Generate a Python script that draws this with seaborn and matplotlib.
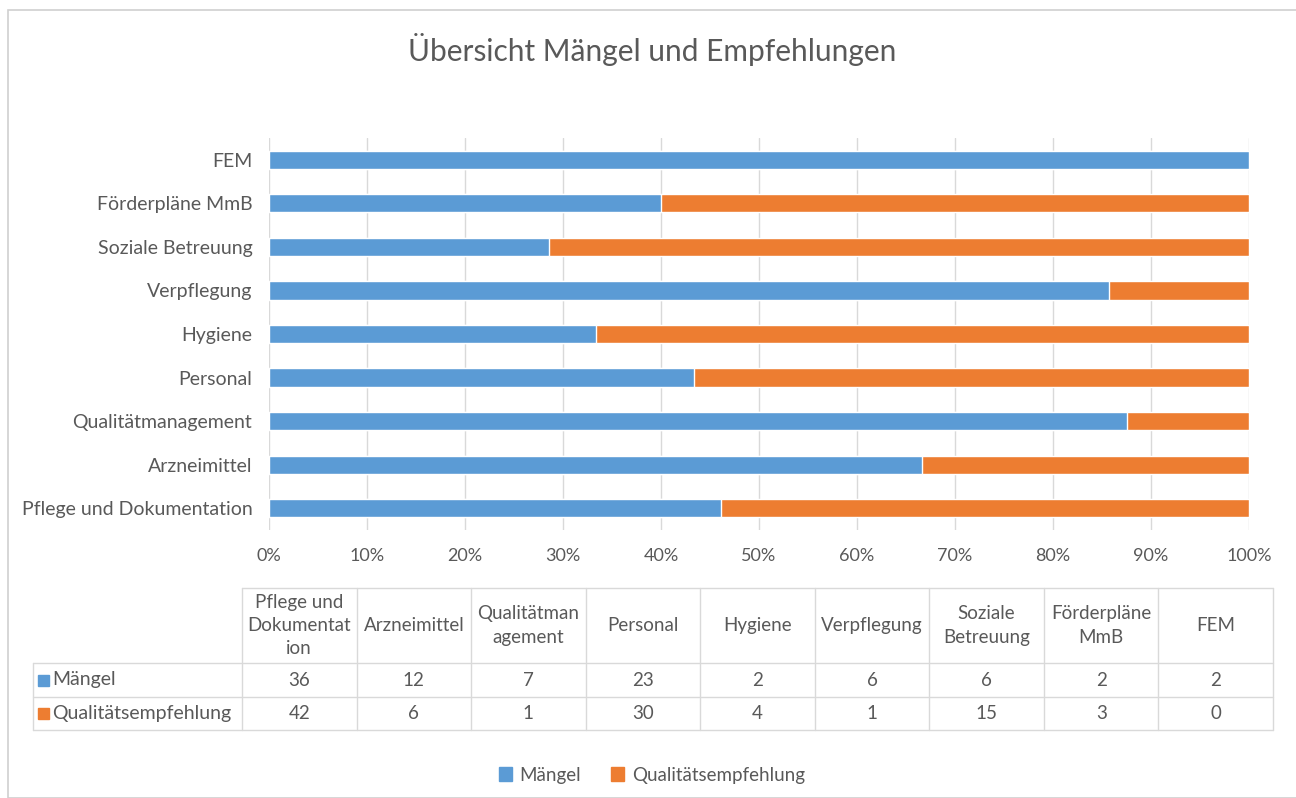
import numpy as np
import pandas as pd
import matplotlib
matplotlib.use("Agg")
import matplotlib.pyplot as plt
import seaborn as sns
from matplotlib.patches import Rectangle, Patch

categories = ["Pflege und Dokumentation", "Arzneimittel", "Qualitätmanagement",
              "Personal", "Hygiene", "Verpflegung", "Soziale Betreuung",
              "Förderpläne MmB", "FEM"]
table_headers = ["Pflege und\nDokumentat\nion", "Arzneimittel", "Qualitätman\nagement",
                 "Personal", "Hygiene", "Verpflegung", "Soziale\nBetreuung",
                 "Förderpläne\nMmB", "FEM"]
maengel = [36, 12, 7, 23, 2, 6, 6, 2, 2]
empfehlung = [42, 6, 1, 30, 4, 1, 15, 3, 0]
series_names = ["Mängel", "Qualitätsempfehlung"]

BLUE = "#5b9bd5"
ORANGE = "#ed7d31"
TXT = "#595959"
GRID = "#d9d9d9"

sns.set_style("white")
plt.rcParams["font.family"] = ["Lato", "DejaVu Sans"]

W, H = 1296, 798
fig = plt.figure(figsize=(W / 100, H / 100), dpi=100)

def fig_rect(x0, y0, x1, y1):
    return [x0 / W, 1 - y1 / H, (x1 - x0) / W, (y1 - y0) / H]

# chart border
fig.patches.append(Rectangle((8 / W, 0), 1.2, 1 - 10 / H, transform=fig.transFigure,
                             fill=False, edgecolor="#d0d0d0", lw=1.2))

fig.text(652 / W, 1 - 50 / H, "Übersicht Mängel und Empfehlungen", ha="center",
         va="center", fontsize=21.5, color=TXT)

df = pd.DataFrame({"cat": categories, "m": maengel, "e": empfehlung})
df["total"] = df["m"] + df["e"]
df["m_pct"] = df["m"] / df["total"] * 100
df["all_pct"] = 100.0
order = categories[::-1]

ax = fig.add_axes(fig_rect(269, 138, 1249, 530))
sns.barplot(data=df, y="cat", x="all_pct", order=order, color=ORANGE,
            width=0.42, ax=ax, orient="h", saturation=1)
sns.barplot(data=df, y="cat", x="m_pct", order=order, color=BLUE,
            width=0.42, ax=ax, orient="h", saturation=1)
ax.set_xlim(0, 100)
ax.set_ylim(len(order) - 0.5, -0.5)
ax.set_xticks(np.arange(0, 101, 10))
ax.set_xticklabels([f"{v}%" for v in range(0, 101, 10)])
ax.xaxis.grid(True, color=GRID, lw=1)
ax.set_axisbelow(True)
for s in ax.spines.values():
    s.set_visible(False)
ax.tick_params(axis="x", length=0, labelsize=13, colors=TXT, pad=13)
ax.tick_params(axis="y", length=0, labelsize=14, colors=TXT, pad=12)
ax.set_xlabel("")
ax.set_ylabel("")

# data table
tx = fig.add_axes(fig_rect(30, 585, 1276, 733))
tx.set_xlim(30, 1276)
tx.set_ylim(733, 585)
tx.axis("off")
x_lab0 = 33
col_w = (1273 - 242) / len(categories)
col_edges = [242 + i * col_w for i in range(len(categories) + 1)]
y_head0, y_head1, y_r1, y_r2 = 588, 663, 697, 730
lc = "#d9d9d9"
tx.plot([242, 1273], [y_head0, y_head0], color=lc, lw=1)
for yy in (y_head1, y_r1, y_r2):
    tx.plot([x_lab0, 1273], [yy, yy], color=lc, lw=1)
for xx in col_edges:
    tx.plot([xx, xx], [y_head0, y_r2], color=lc, lw=1)
tx.plot([x_lab0, x_lab0], [y_head1, y_r2], color=lc, lw=1)
for i, hdr in enumerate(table_headers):
    cx = (col_edges[i] + col_edges[i + 1]) / 2
    tx.text(cx, (y_head0 + y_head1) / 2, hdr, ha="center", va="center",
            fontsize=13.5, color=TXT, linespacing=1.45)
rows = [(series_names[0], maengel, BLUE, (y_head1 + y_r1) / 2),
        (series_names[1], empfehlung, ORANGE, (y_r1 + y_r2) / 2)]
for name, vals, col, cy in rows:
    tx.add_patch(Rectangle((38, cy - 5.5), 11, 11, color=col))
    tx.text(52, cy, name, ha="left", va="center", fontsize=14, color=TXT)
    for i, v in enumerate(vals):
        cx = (col_edges[i] + col_edges[i + 1]) / 2
        tx.text(cx, cy, str(v), ha="center", va="center", fontsize=13.5, color=TXT)

handles = [Patch(color=BLUE, label=series_names[0]),
           Patch(color=ORANGE, label=series_names[1])]
fig.legend(handles=handles, loc="center", bbox_to_anchor=(652 / W, 1 - 775 / H),
           ncol=2, frameon=False, fontsize=13.5, handlelength=0.7, handleheight=0.7,
           handletextpad=0.4, columnspacing=1.6, labelcolor=TXT)

fig.savefig("out.png", dpi=100, facecolor="white")
